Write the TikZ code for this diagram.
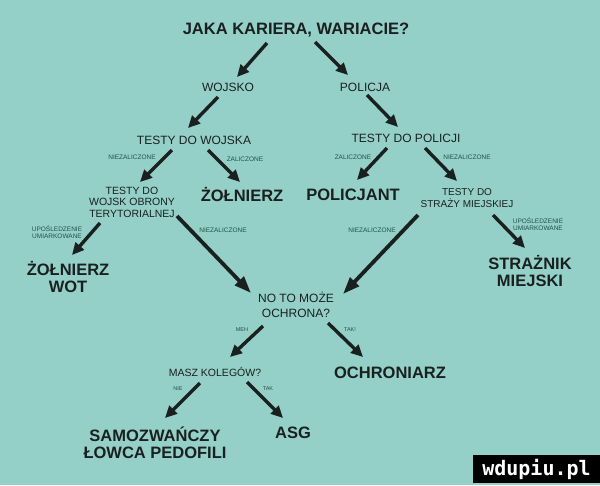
\documentclass[tikz,border=0pt]{standalone}
\usepackage{fontspec}
\setmainfont{Liberation Sans}
\newfontfamily\markfont{DejaVu Sans Mono}
\usetikzlibrary{arrows.meta}
\definecolor{bgteal}{RGB}{148,208,200}
\definecolor{inkdark}{RGB}{26,32,32}
\definecolor{inksmall}{RGB}{32,80,74}
\newcommand*{\picW}{600}
\newcommand*{\picH}{485}
\tikzset{
  bigtxt/.style={font=\bfseries\fontsize{16.5}{17.5}\selectfont, text=inkdark, align=center, inner sep=0pt},
  midtxt/.style={font=\fontsize{12}{13}\selectfont, text=inkdark, align=center, inner sep=0pt},
  smalltxt/.style={font=\fontsize{10.5}{11.5}\selectfont, text=inkdark, align=center, inner sep=0pt},
  lbl/.style={font=\fontsize{6.5}{7}\selectfont, text=inksmall, align=center, inner sep=0pt},
  tinylbl/.style={font=\fontsize{5.5}{6}\selectfont, text=inksmall, inner sep=0pt},
  arr/.style={line width=3.4pt, draw=inkdark, -{Triangle[length=12pt,width=11pt]}},
  longarr/.style={line width=3.8pt, draw=inkdark, -{Triangle[length=17pt,width=12pt]}}
}
\begin{document}
\begin{tikzpicture}[x=1pt,y=-1pt]
    \fill [bgteal] (0,0) rectangle (\picW,\picH);
    \useasboundingbox (0,0) rectangle (\picW,\picH);

    % questions and outcomes
    \node (title) [bigtxt] at (296,30) {JAKA KARIERA, WARIACIE?};
    \node (wojsko) [midtxt] at (228,87) {WOJSKO};
    \node (policja) [midtxt] at (365,87) {POLICJA};
    \node (twoj) [midtxt] at (194,140) {TESTY DO WOJSKA};
    \node (tpol) [midtxt] at (406,138) {TESTY DO POLICJI};
    \node (zol) [bigtxt] at (242,195) {ŻOŁNIERZ};
    \node (polj) [bigtxt] at (353,195) {POLICJANT};
    \node (twot) [smalltxt] at (132,202) {TESTY DO\\WOJSK OBRONY\\TERYTORIALNEJ};
    \node (tsm) [smalltxt, font=\fontsize{10}{12}\selectfont] at (467,198) {TESTY DO\\STRAŻY MIEJSKIEJ};
    \node (wot) [bigtxt] at (68,277) {ŻOŁNIERZ\\WOT};
    \node (straz) [bigtxt] at (530,271) {STRAŻNIK\\MIEJSKI};
    \node (ochq) [midtxt, font=\fontsize{12}{14.5}\selectfont] at (296,305) {NO TO MOŻE\\OCHRONA?};
    \node (masz) [smalltxt] at (215,372) {MASZ KOLEGÓW?};
    \node (ochr) [bigtxt] at (390,373) {OCHRONIARZ};
    \node (lowca) [bigtxt] at (155,443) {SAMOZWAŃCZY\\ŁOWCA PEDOFILI};
    \node (asg) [bigtxt] at (293,433) {ASG};

    % answers on the arrows
    \node (l1) [lbl] at (132,157) {NIEZALICZONE};
    \node (l2) [lbl] at (245,159) {ZALICZONE};
    \node (l3) [lbl] at (353,157) {ZALICZONE};
    \node (l4) [lbl] at (467,157) {NIEZALICZONE};
    \node (l5) [lbl] at (57,232) {UPOŚLEDZENIE\\UMIARKOWANE};
    \node (l6) [lbl] at (223,230) {NIEZALICZONE};
    \node (l7) [lbl] at (372,230) {NIEZALICZONE};
    \node (l8) [lbl] at (538,224) {UPOŚLEDZENIE\\UMIARKOWANE};
    \node (l9) [tinylbl] at (242,330) {MEH};
    \node (l10) [tinylbl] at (350,330) {TAK!};
    \node (l11) [tinylbl] at (178,389) {NIE};
    \node (l12) [tinylbl] at (268,389) {TAK};

    \foreach \a/\ax/\ay/\b/\bx/\by in {
        title/-29/13/wojsko/9/-10, title/19/12/policja/-17/-12,
        wojsko/-10/10/twoj/-6/-12, policja/2/8/tpol/-8/-11,
        twoj/-22/10/twot/8/-20, twoj/14/10/zol/-2/-13,
        tpol/-19/10/polj/4/-15, tpol/19/10/tsm/-10/-17,
        twot/-32/21/wot/4/-22, tsm/26/17/straz/-5/-23,
        ochq/-33/21/masz/15/-15, ochq/32/18/ochr/-27/-16,
        masz/-15/11/lowca/10/-25, masz/32/10/asg/-10/-15} {
      \draw [arr] ([shift={(\ax,\ay)}]\a.center) -- ([shift={(\bx,\by)}]\b.center);
    }
    \draw [longarr] ([shift={(45,14)}]twot.center) -- ([shift={(-45,-12)}]ochq.center);
    \draw [longarr] ([shift={(-49,17)}]tsm.center) -- ([shift={(47,-11)}]ochq.center);

    \node (mark) [fill=black, text=white, inner sep=0pt, minimum width=127pt, minimum height=28pt,
      font=\markfont\bfseries\fontsize{20}{20}\selectfont] at (536.5,469) {wdupiu.pl};
  \end{tikzpicture}
\end{document}
